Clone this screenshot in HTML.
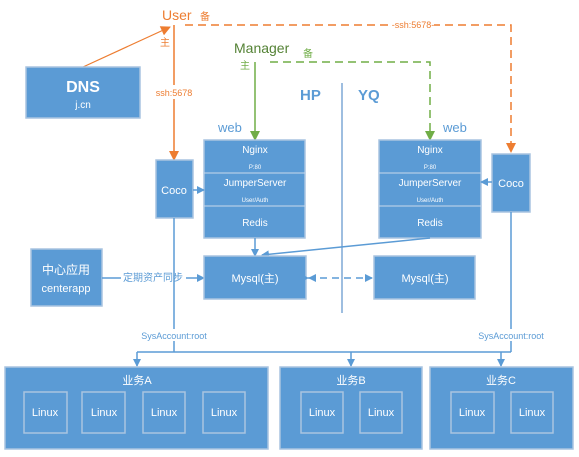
<!DOCTYPE html>
<html><head><meta charset="utf-8"><style>
html,body{margin:0;padding:0;background:#fff;}
svg{display:block;font-family:"Liberation Sans","Noto Sans CJK SC",sans-serif;}
.b{fill:#5b9bd5;stroke:#a9c4e0;stroke-width:1.5;}
.t{fill:#fff;text-anchor:middle;}
.l{stroke:#5b9bd5;stroke-width:1.5;fill:none;}
</style></head><body>
<svg width="579" height="457" viewBox="0 0 579 457">
<defs>
<marker id="ab" markerWidth="8" markerHeight="8" refX="7" refY="4" orient="auto" markerUnits="userSpaceOnUse"><path d="M0,0L8,4L0,8z" fill="#5b9bd5"/></marker>
<marker id="ao" markerWidth="10" markerHeight="10" refX="9" refY="5" orient="auto" markerUnits="userSpaceOnUse"><path d="M0,0L10,5L0,10z" fill="#ed7d31"/></marker>
<marker id="ag" markerWidth="10" markerHeight="10" refX="9" refY="5" orient="auto" markerUnits="userSpaceOnUse"><path d="M0,0L10,5L0,10z" fill="#70ad47"/></marker>
</defs>
<!-- orange -->
<text x="162" y="20" fill="#ed7d31" font-size="14">User</text>
<text x="200" y="20" fill="#ed7d31" font-size="10">备</text>
<text x="160" y="46" fill="#ed7d31" font-size="10">主</text>
<line x1="83" y1="67" x2="170" y2="27" stroke="#ed7d31" stroke-width="1.2" marker-end="url(#ao)"/>
<line x1="174" y1="25" x2="174" y2="160" stroke="#ed7d31" stroke-width="1.5" marker-end="url(#ao)"/>
<rect x="152" y="85" width="44" height="14" fill="#fff"/>
<text x="174" y="96" fill="#ed7d31" font-size="9" text-anchor="middle">ssh:5678</text>
<path d="M185,25H511V152" stroke="#ed7d31" stroke-width="1.5" fill="none" stroke-dasharray="8,5" marker-end="url(#ao)"/>
<rect x="392" y="19" width="42" height="12" fill="#fff"/>
<text x="413" y="28" fill="#ed7d31" font-size="9" text-anchor="middle">-ssh:5678-</text>
<!-- green -->
<text x="234" y="53" fill="#548235" font-size="14">Manager</text>
<text x="303" y="57" fill="#70ad47" font-size="10">备</text>
<text x="240" y="69" fill="#70ad47" font-size="10">主</text>
<line x1="255" y1="62" x2="255" y2="140" stroke="#70ad47" stroke-width="1.5" marker-end="url(#ag)"/>
<path d="M270,62H430V140" stroke="#70ad47" stroke-width="1.5" fill="none" stroke-dasharray="8,5" marker-end="url(#ag)"/>
<!-- DNS -->
<rect class="b" x="26" y="67" width="114" height="51"/>
<text class="t" x="83" y="92" font-size="16" font-weight="bold">DNS</text>
<text class="t" x="83" y="108" font-size="10">j.cn</text>
<!-- HP/YQ -->
<text x="300" y="100" fill="#5b9bd5" font-size="15" font-weight="bold">HP</text>
<text x="358" y="100" fill="#5b9bd5" font-size="15" font-weight="bold">YQ</text>
<line x1="342" y1="83" x2="342" y2="313" stroke="#7fa8d6" stroke-width="1.5"/>
<text x="218" y="132" fill="#5b9bd5" font-size="13">web</text>
<text x="443" y="132" fill="#5b9bd5" font-size="13">web</text>
<!-- left stack -->
<rect class="b" x="204" y="140" width="101" height="98"/>
<line x1="204" y1="173" x2="305" y2="173" stroke="#c8d8ea"/>
<line x1="204" y1="206" x2="305" y2="206" stroke="#c8d8ea"/>
<text class="t" x="255" y="153" font-size="10">Nginx</text>
<text class="t" x="255" y="169" font-size="6">P:80</text>
<text class="t" x="255" y="186" font-size="10">JumperServer</text>
<text class="t" x="255" y="202" font-size="6">User/Auth</text>
<text class="t" x="255" y="226" font-size="10">Redis</text>
<!-- right stack -->
<rect class="b" x="379" y="140" width="102" height="98"/>
<line x1="379" y1="173" x2="481" y2="173" stroke="#c8d8ea"/>
<line x1="379" y1="206" x2="481" y2="206" stroke="#c8d8ea"/>
<text class="t" x="430" y="153" font-size="10">Nginx</text>
<text class="t" x="430" y="169" font-size="6">P:80</text>
<text class="t" x="430" y="186" font-size="10">JumperServer</text>
<text class="t" x="430" y="202" font-size="6">User/Auth</text>
<text class="t" x="430" y="226" font-size="10">Redis</text>
<!-- coco -->
<rect class="b" x="156" y="160" width="37" height="58"/>
<text class="t" x="174" y="194" font-size="11">Coco</text>
<rect class="b" x="492" y="154" width="38" height="58"/>
<text class="t" x="511" y="187" font-size="11">Coco</text>
<line class="l" x1="193" y1="190" x2="204" y2="190" marker-end="url(#ab)"/>
<line class="l" x1="492" y1="182" x2="481" y2="182" marker-end="url(#ab)"/>
<!-- redis -> mysql -->
<line class="l" x1="255" y1="238" x2="255" y2="256" marker-end="url(#ab)"/>
<line class="l" x1="430" y1="238" x2="262" y2="255" marker-end="url(#ab)"/>
<!-- center -->
<rect class="b" x="31" y="249" width="71" height="57"/>
<text class="t" x="66" y="274" font-size="12">中心应用</text>
<text class="t" x="66" y="292" font-size="11">centerapp</text>
<line class="l" x1="102" y1="278" x2="204" y2="278" marker-end="url(#ab)"/>
<rect x="121" y="270" width="65" height="14" fill="#fff"/>
<text x="153" y="281" fill="#5b9bd5" font-size="10" text-anchor="middle">定期资产同步</text>
<rect class="b" x="204" y="256" width="102" height="43"/>
<text class="t" x="255" y="282" font-size="11">Mysql(主)</text>
<rect class="b" x="374" y="256" width="101" height="43"/>
<text class="t" x="425" y="282" font-size="11">Mysql(主)</text>
<line class="l" x1="308" y1="278" x2="372" y2="278" stroke-dasharray="7,5" marker-start="url(#ab)" marker-end="url(#ab)"/>
<path d="M316,274L308,278L316,282z" fill="#5b9bd5"/>
<!-- bottom lines -->
<path class="l" d="M174,218V352"/>
<path class="l" d="M511,212V352"/>
<path class="l" d="M137,352H511"/>
<line class="l" x1="137" y1="352" x2="137" y2="366" marker-end="url(#ab)"/>
<line class="l" x1="351" y1="352" x2="351" y2="366" marker-end="url(#ab)"/>
<line class="l" x1="501" y1="352" x2="501" y2="366" marker-end="url(#ab)"/>
<rect x="137" y="329" width="74" height="12" fill="#fff"/>
<text x="174" y="339" fill="#5b9bd5" font-size="9" text-anchor="middle">SysAccount:root</text>
<rect x="474" y="329" width="74" height="12" fill="#fff"/>
<text x="511" y="339" fill="#5b9bd5" font-size="9" text-anchor="middle">SysAccount:root</text>
<!-- bottom boxes -->
<rect class="b" x="5" y="367" width="263" height="82"/>
<text class="t" x="137" y="384" font-size="11">业务A</text>
<rect class="b" x="280" y="367" width="142" height="82"/>
<text class="t" x="351" y="384" font-size="11">业务B</text>
<rect class="b" x="430" y="367" width="143" height="82"/>
<text class="t" x="501" y="384" font-size="11">业务C</text>
<g font-size="11">
<rect class="b" x="24" y="392" width="43" height="41"/><text class="t" x="45" y="416">Linux</text>
<rect class="b" x="82" y="392" width="43" height="41"/><text class="t" x="104" y="416">Linux</text>
<rect class="b" x="143" y="392" width="42" height="41"/><text class="t" x="164" y="416">Linux</text>
<rect class="b" x="203" y="392" width="42" height="41"/><text class="t" x="224" y="416">Linux</text>
<rect class="b" x="301" y="392" width="42" height="41"/><text class="t" x="322" y="416">Linux</text>
<rect class="b" x="360" y="392" width="42" height="41"/><text class="t" x="381" y="416">Linux</text>
<rect class="b" x="451" y="392" width="43" height="41"/><text class="t" x="472" y="416">Linux</text>
<rect class="b" x="511" y="392" width="42" height="41"/><text class="t" x="532" y="416">Linux</text>
</g>
</svg>
</body></html>
